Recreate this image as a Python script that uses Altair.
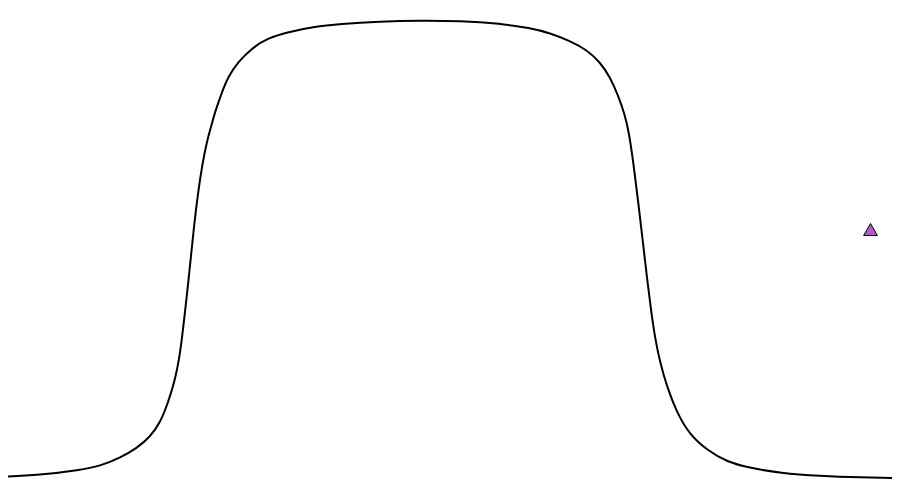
import altair as alt
import pandas as pd

# curve samples (horizontal position, screen row)
curve_x = [0, 40, 80, 100, 120, 137, 150, 160, 168, 175, 179, 182, 185, 188, 191,
           194, 198, 202, 207, 211, 215, 222, 228, 238, 252, 268, 288, 313, 340,
           380, 420, 460, 500, 530, 550, 570, 587, 600, 610, 618, 625, 629, 633,
           638, 643, 647, 651, 655, 660, 667, 677, 690, 707, 727, 750, 780, 820,
           860, 900]
curve_py = [477, 475, 470, 466, 458, 448, 437, 423, 403, 380, 360, 338, 312, 285, 256,
            226, 193, 166, 141, 127, 112, 92, 77, 62, 48, 38, 32, 27, 24,
            21.5, 20.5, 21, 23.5, 28, 33, 41, 50, 62, 77, 95, 115, 133, 160,
            200, 243, 278, 310, 338, 362, 387, 413, 435, 450, 462, 468, 473, 476,
            477.5, 478]
curve_level = [498 - v for v in curve_py]

marker_x = [870.5]
marker_level = [498 - 229.5]

curve = pd.DataFrame({"x": curve_x, "level": curve_level})
marker = pd.DataFrame({"x": marker_x, "level": marker_level})

xs = alt.Scale(domain=[8, 892], nice=False, zero=False)
ys = alt.Scale(domain=[8, 490], nice=False, zero=False)

line = alt.Chart(curve).mark_line(
    color="black", strokeWidth=2, interpolate="basis", clip=True
).encode(
    x=alt.X("x:Q", scale=xs, axis=None),
    y=alt.Y("level:Q", scale=ys, axis=None),
)

pt = alt.Chart(marker).mark_point(
    shape="triangle-up", filled=True, fill="#b45bd0", stroke="black",
    strokeWidth=1, size=190, opacity=1
).encode(
    x=alt.X("x:Q", scale=xs, axis=None),
    y=alt.Y("level:Q", scale=ys, axis=None),
)

chart = alt.layer(line, pt).properties(
    width=884, height=482, padding=0, background="white"
).configure_view(stroke=None)

chart.save("out.html", embed_options={"renderer": "svg", "actions": False})
